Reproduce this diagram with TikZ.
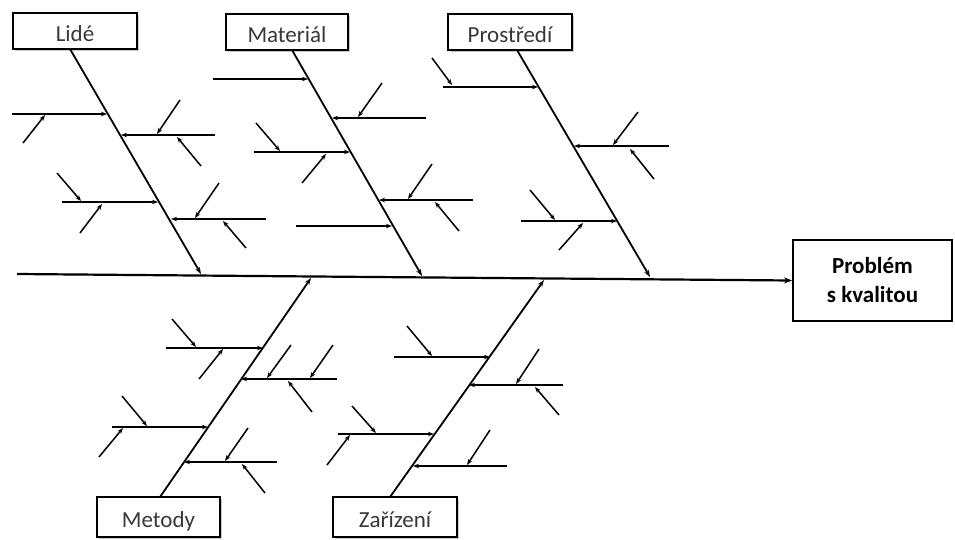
\documentclass[tikz,border=0pt]{standalone}
\usepackage{fontspec}
\setmainfont{Carlito}
\usetikzlibrary{arrows.meta,shadows}
\tikzset{
  lbl/.style={draw=black, line width=1.8pt, fill=white, text=black!78,
    font=\fontsize{23pt}{25pt}\selectfont, inner sep=0pt, text height=20pt, text depth=0pt,
    drop shadow={shadow xshift=2pt, shadow yshift=-2pt, fill=black!35, opacity=0.6}},
  spine/.style={line width=2.2pt, -{Stealth[length=8pt,width=6pt]}},
  bone/.style={line width=1.8pt, -{Stealth[length=7pt,width=5pt]}},
  sub/.style={line width=1.6pt, -{Stealth[length=6pt,width=4.5pt]}},
  tick/.style={line width=1.5pt, -{Stealth[length=6pt,width=4.5pt]}},
}
\begin{document}
\begin{tikzpicture}[x=1pt,y=-1pt]
\useasboundingbox (0,0) rectangle (955,539);
% label boxes
\node[lbl, minimum width=124pt, minimum height=36pt] (lide) at (75,31) {Lidé};
\node[lbl, minimum width=122pt, minimum height=36pt] (mat) at (287,32) {Materiál};
\node[lbl, minimum width=124pt, minimum height=36pt] (pro) at (510,32) {Prostředí};
\node[lbl, minimum width=123pt, minimum height=40pt] (met) at (158.5,517) {Metody};
\node[lbl, minimum width=124pt, minimum height=40pt] (zar) at (395,517) {Zařízení};
\node[draw=black, line width=1.8pt, minimum width=159pt, minimum height=81pt, align=center,
  font=\fontsize{23pt}{29pt}\selectfont\bfseries] (prob) at (872.5,280.5) {Problém\\s kvalitou};
% spine
\coordinate (s0) at (17,274);
\draw[spine] (s0) -- (prob.west);
% main bones
\coordinate (bL1) at (70,49);   \coordinate (bL2) at (201,274);
\coordinate (bM1) at (292,50);  \coordinate (bM2) at (422,276);
\coordinate (bP1) at (517,50);  \coordinate (bP2) at (650,277);
\coordinate (bD1) at (160,497); \coordinate (bD2) at (311,278);
\coordinate (bZ1) at (390,497); \coordinate (bZ2) at (544,280);
\draw[bone] (bL1) -- (bL2);
\draw[bone] (bM1) -- (bM2);
\draw[bone] (bP1) -- (bP2);
\draw[bone] (bD1) -- (bD2);
\draw[bone] (bZ1) -- (bZ2);
% ---- Lide
\coordinate (L1a) at (12,114);  \coordinate (L1b) at (107,114);
\coordinate (L1c) at (23,143);  \coordinate (L1d) at (45,115);
\draw[sub] (L1a) -- (L1b); \draw[tick] (L1c) -- (L1d);
\coordinate (L2a) at (215,135); \coordinate (L2b) at (121,135);
\coordinate (L2c) at (180,100); \coordinate (L2d) at (157,134);
\coordinate (L2e) at (201,166); \coordinate (L2f) at (177,137);
\draw[sub] (L2a) -- (L2b); \draw[tick] (L2c) -- (L2d); \draw[tick] (L2e) -- (L2f);
\coordinate (L3a) at (62,202);  \coordinate (L3b) at (158,202);
\coordinate (L3c) at (57,173);  \coordinate (L3d) at (81,201);
\coordinate (L3e) at (80,233);  \coordinate (L3f) at (102,204);
\draw[sub] (L3a) -- (L3b); \draw[tick] (L3c) -- (L3d); \draw[tick] (L3e) -- (L3f);
\coordinate (L4a) at (266,219); \coordinate (L4b) at (171,219);
\coordinate (L4c) at (219,183); \coordinate (L4d) at (195,218);
\coordinate (L4e) at (246,248); \coordinate (L4f) at (223,221);
\draw[sub] (L4a) -- (L4b); \draw[tick] (L4c) -- (L4d); \draw[tick] (L4e) -- (L4f);
% ---- Material
\coordinate (M1a) at (213,79);  \coordinate (M1b) at (308,79);
\draw[sub] (M1a) -- (M1b);
\coordinate (M2a) at (426,118); \coordinate (M2b) at (332,118);
\coordinate (M2c) at (382,83);  \coordinate (M2d) at (358,117);
\draw[sub] (M2a) -- (M2b); \draw[tick] (M2c) -- (M2d);
\coordinate (M3a) at (254,152); \coordinate (M3b) at (350,152);
\coordinate (M3c) at (256,123); \coordinate (M3d) at (280,151);
\coordinate (M3e) at (302,183); \coordinate (M3f) at (326,154);
\draw[sub] (M3a) -- (M3b); \draw[tick] (M3c) -- (M3d); \draw[tick] (M3e) -- (M3f);
\coordinate (M4a) at (473,200); \coordinate (M4b) at (379,200);
\coordinate (M4c) at (432,164); \coordinate (M4d) at (408,199);
\coordinate (M4e) at (459,231); \coordinate (M4f) at (435,202);
\draw[sub] (M4a) -- (M4b); \draw[tick] (M4c) -- (M4d); \draw[tick] (M4e) -- (M4f);
\coordinate (M5a) at (296,226); \coordinate (M5b) at (392,226);
\draw[sub] (M5a) -- (M5b);
% ---- Prostredi
\coordinate (P1a) at (443,87);  \coordinate (P1b) at (538,87);
\coordinate (P1c) at (432,58);  \coordinate (P1d) at (452,85);
\draw[sub] (P1a) -- (P1b); \draw[tick] (P1c) -- (P1d);
\coordinate (P2a) at (669,146); \coordinate (P2b) at (574,146);
\coordinate (P2c) at (638,112); \coordinate (P2d) at (613,145);
\coordinate (P2e) at (654,179); \coordinate (P2f) at (630,149);
\draw[sub] (P2a) -- (P2b); \draw[tick] (P2c) -- (P2d); \draw[tick] (P2e) -- (P2f);
\coordinate (P3a) at (521,221); \coordinate (P3b) at (617,221);
\coordinate (P3c) at (530,190); \coordinate (P3d) at (555,220);
\coordinate (P3e) at (559,250); \coordinate (P3f) at (583,223);
\draw[sub] (P3a) -- (P3b); \draw[tick] (P3c) -- (P3d); \draw[tick] (P3e) -- (P3f);
% ---- Metody
\coordinate (D1a) at (166,348); \coordinate (D1b) at (263,348);
\coordinate (D1c) at (172,319); \coordinate (D1d) at (196,347);
\coordinate (D1e) at (199,379); \coordinate (D1f) at (223,349);
\draw[sub] (D1a) -- (D1b); \draw[tick] (D1c) -- (D1d); \draw[tick] (D1e) -- (D1f);
\coordinate (D2a) at (337,379); \coordinate (D2b) at (241,379);
\coordinate (D2c) at (291,345); \coordinate (D2d) at (267,378);
\coordinate (D2e) at (333,345); \coordinate (D2f) at (310,378);
\coordinate (D2g) at (312,412); \coordinate (D2h) at (288,381);
\draw[sub] (D2a) -- (D2b); \draw[tick] (D2c) -- (D2d); \draw[tick] (D2e) -- (D2f); \draw[tick] (D2g) -- (D2h);
\coordinate (D3a) at (112,427); \coordinate (D3b) at (208,427);
\coordinate (D3c) at (122,396); \coordinate (D3d) at (147,426);
\coordinate (D3e) at (99,457);  \coordinate (D3f) at (123,428);
\draw[sub] (D3a) -- (D3b); \draw[tick] (D3c) -- (D3d); \draw[tick] (D3e) -- (D3f);
\coordinate (D4a) at (277,462); \coordinate (D4b) at (184,462);
\coordinate (D4c) at (248,428); \coordinate (D4d) at (225,461);
\coordinate (D4e) at (265,493); \coordinate (D4f) at (242,464);
\draw[sub] (D4a) -- (D4b); \draw[tick] (D4c) -- (D4d); \draw[tick] (D4e) -- (D4f);
% ---- Zarizeni
\coordinate (Z1a) at (394,357); \coordinate (Z1b) at (490,357);
\coordinate (Z1c) at (407,326); \coordinate (Z1d) at (432,356);
\draw[sub] (Z1a) -- (Z1b); \draw[tick] (Z1c) -- (Z1d);
\coordinate (Z2a) at (563,385); \coordinate (Z2b) at (469,385);
\coordinate (Z2c) at (539,349); \coordinate (Z2d) at (516,384);
\coordinate (Z2e) at (559,415); \coordinate (Z2f) at (535,387);
\draw[sub] (Z2a) -- (Z2b); \draw[tick] (Z2c) -- (Z2d); \draw[tick] (Z2e) -- (Z2f);
\coordinate (Z3a) at (338,434); \coordinate (Z3b) at (434,434);
\coordinate (Z3c) at (352,406); \coordinate (Z3d) at (376,433);
\coordinate (Z3e) at (327,465); \coordinate (Z3f) at (350,435);
\draw[sub] (Z3a) -- (Z3b); \draw[tick] (Z3c) -- (Z3d); \draw[tick] (Z3e) -- (Z3f);
\coordinate (Z4a) at (507,466); \coordinate (Z4b) at (413,466);
\coordinate (Z4c) at (490,430); \coordinate (Z4d) at (467,465);
\draw[sub] (Z4a) -- (Z4b); \draw[tick] (Z4c) -- (Z4d);
\end{tikzpicture}
\end{document}
